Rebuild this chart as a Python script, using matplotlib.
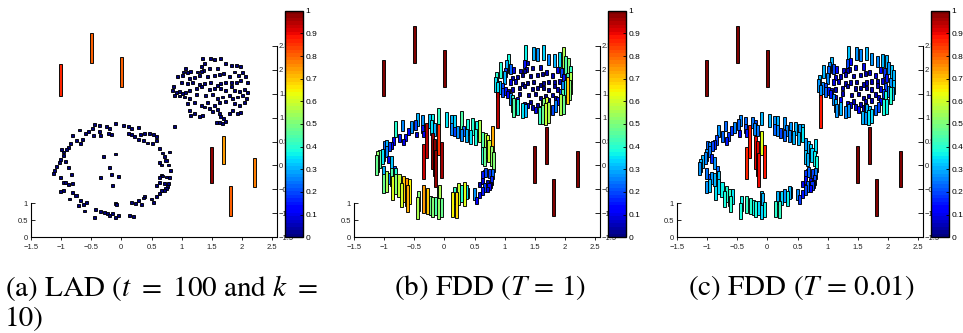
import numpy as np
import matplotlib
matplotlib.use('Agg')
import matplotlib.pyplot as plt
from matplotlib import ticker
from matplotlib.cm import ScalarMappable
from matplotlib.colors import Normalize

# ---- data (x, y of each point, score = bar height / colour) ----
# ring of points around the origin
ring_x = [-0.44, -0.36, -0.24, -0.19, -0.09, 0.03, 0.12, 0.17, 0.28,
          -0.69, -0.60, -0.55, -0.47, -0.36, -0.22, -0.16, 0.12, 0.17, 0.22, 0.31, 0.39, 0.47, 0.53, 0.58,
          -0.81, -0.74, -0.65, -0.84, -0.68, -0.46, -0.35, 0.28, 0.36, 0.44, 0.52, 0.58,
          -0.99, -0.95, -0.91, -0.87, -0.96, -1.01, -0.93, -1.07, -1.03, -0.88, -1.10, -1.12, -0.82,
          -1.00, -0.96, -0.92, -0.87, -0.81, -1.00, -0.95, -0.86, -0.80, -0.75,
          -0.68, -0.63, -0.71, -0.57, -0.61, -0.43, -0.45, -0.35, -0.28, -0.23, -0.20, -0.15,
          -0.10, -0.05, -0.08, -0.09, 0.14, 0.21, 0.17, 0.23, 0.28, 0.34, 0.39, 0.36,
          0.50, 0.53, 0.58, 0.63, 0.67, 0.71, 0.74, 0.77, 0.78, 0.72, 0.64, 0.58, 0.63, 0.69, 0.75, 0.80, 0.67,
          0.66, 0.78, 0.72, 0.69, 0.64, 0.80, 0.64, 0.81, 0.74]
ring_y = [0.85, 0.83, 0.81, 0.78, 0.87, 0.84, 0.81, 0.78, 0.80,
          0.74, 0.67, 0.70, 0.78, 0.70, 0.67, 0.64, 0.67, 0.64, 0.60, 0.64, 0.67, 0.67, 0.64, 0.60,
          0.62, 0.53, 0.55, 0.46, 0.45, 0.62, 0.62, 0.55, 0.52, 0.47, 0.46, 0.53,
          0.33, 0.28, 0.34, 0.38, 0.20, 0.12, 0.09, -0.03, 0.07, -0.05, -0.10, -0.16, -0.19,
          -0.25, -0.36, -0.36, -0.40, -0.37, -0.55, -0.53, -0.70, -0.56, -0.63,
          -0.74, -0.82, -0.83, -0.77, -0.95, -0.92, -1.08, -0.96, -0.99, -1.00, -1.05, -1.01,
          -1.08, -1.05, -0.82, -0.79, -1.05, -1.07, -0.78, -0.80, -0.73, -0.81, -0.64, -0.68,
          -0.70, -0.77, -0.65, -0.59, -0.52, -0.53, -0.48, -0.44, -0.37, -0.37, -0.35, -0.42, -0.25, -0.22, -0.24, -0.26, -0.21,
          0.01, 0.01, 0.18, 0.26, 0.35, 0.28, 0.07, -0.10, 0.10]
ring_fdd1 = [0.30, 0.28, 0.32, 0.36, 0.42, 0.35, 0.30, 0.33, 0.44,
             0.25, 0.12, 0.28, 0.20, 0.15, 0.35, 0.30, 0.25, 0.20, 0.28, 0.22, 0.38, 0.40, 0.36, 0.45,
             0.40, 0.15, 0.12, 0.14, 0.10, 0.08, 0.10, 0.25, 0.30, 0.35, 0.38, 0.55,
             0.22, 0.30, 0.18, 0.12, 0.25, 0.20, 0.10, 0.45, 0.35, 0.32, 0.52, 0.48, 0.20,
             0.30, 0.15, 0.25, 0.45, 0.40, 0.48, 0.55, 0.62, 0.50, 0.58,
             0.70, 0.75, 0.60, 0.65, 0.72, 0.50, 0.55, 0.74, 0.70, 0.48, 0.50, 0.45,
             0.52, 0.48, 0.55, 0.45, 0.65, 0.68, 0.42, 0.58, 0.40, 0.62, 0.20, 0.35,
             0.28, 0.12, 0.10, 0.15, 0.18, 0.08, 0.12, 0.10, 0.16, 0.06, 0.08, 0.05, 0.15, 0.20, 0.18, 0.22, 0.12,
             0.48, 0.52, 0.60, 0.55, 0.45, 0.72, 0.40, 0.50, 0.58]
ring_fdd001 = [0.25, 0.22, 0.24, 0.20, 0.30, 0.30, 0.28, 0.30, 0.27,
               0.22, 0.18, 0.25, 0.22, 0.20, 0.26, 0.24, 0.22, 0.25, 0.20, 0.26, 0.28, 0.30, 0.27, 0.32,
               0.28, 0.22, 0.18, 0.20, 0.15, 0.12, 0.15, 0.22, 0.26, 0.30, 0.30, 0.35,
               0.22, 0.25, 0.20, 0.16, 0.24, 0.28, 0.16, 0.30, 0.26, 0.27, 0.30, 0.28, 0.22,
               0.24, 0.20, 0.27, 0.30, 0.32, 0.28, 0.32, 0.35, 0.34, 0.36,
               0.40, 0.42, 0.38, 0.35, 0.40, 0.36, 0.38, 0.42, 0.40, 0.36, 0.38, 0.34,
               0.33, 0.36, 0.30, 0.32, 0.40, 0.42, 0.30, 0.34, 0.28, 0.36, 0.22, 0.30,
               0.25, 0.18, 0.15, 0.20, 0.22, 0.12, 0.18, 0.16, 0.20, 0.10, 0.14, 0.10, 0.18, 0.22, 0.20, 0.24, 0.16,
               0.30, 0.36, 0.33, 0.30, 0.28, 0.35, 0.32, 0.38, 0.34]

# points inside the ring
inner_x = [-0.30, -0.10, -0.19, -0.34, -0.16, -0.04, -0.15]
inner_y = [0.18, 0.24, -0.05, -0.25, -0.18, -0.23, -0.41]
inner_fdd1 = [0.95, 0.85, 0.97, 0.93, 1.00, 0.96, 0.98]
inner_fdd001 = [0.88, 0.62, 0.90, 0.86, 0.92, 0.88, 0.90]

# dense cluster, upper right
cluster_x = [1.35, 1.48, 1.54, 1.64, 1.37, 1.32, 1.73, 1.82, 1.90, 1.98, 1.60, 1.46,
             1.07, 1.03, 1.10, 1.15, 1.26, 1.32, 1.36,
             0.93, 1.02, 1.13, 1.21, 1.29, 1.43, 1.54, 1.62, 1.70, 1.79, 1.87, 1.94, 2.01, 2.06,
             2.09, 1.98, 1.90, 1.82, 1.73, 1.65, 1.60, 1.48, 1.37, 1.29, 1.18, 1.10, 0.99,
             0.87, 0.85, 0.91, 0.96, 1.02, 1.07, 1.13, 1.24, 1.32, 1.46, 1.54, 1.65, 1.73, 1.82, 1.87, 1.95, 2.04, 2.09,
             0.88, 0.96, 1.04, 1.13, 1.24, 1.40, 1.51, 1.60, 1.68, 1.79, 1.84, 1.93, 2.01, 2.08,
             1.10, 1.21, 1.32, 1.43, 1.54, 1.62, 1.73, 1.87, 1.95, 2.04,
             1.13, 1.15, 1.21, 1.29, 1.35, 1.37, 1.46, 1.51, 1.60, 1.62, 1.65, 1.70, 1.73, 1.62, 1.57, 1.68, 1.79, 1.84, 1.93, 1.98]
cluster_y = [2.23, 2.24, 2.22, 2.24, 2.12, 2.06, 2.12, 2.08, 2.09, 2.06, 2.03, 2.02,
             2.03, 1.95, 1.94, 1.96, 1.95, 1.96, 1.99,
             1.85, 1.88, 1.81, 1.83, 1.88, 1.85, 1.87, 1.89, 1.92, 1.85, 1.95, 1.87, 1.94, 1.85,
             1.74, 1.78, 1.74, 1.73, 1.74, 1.71, 1.67, 1.73, 1.71, 1.69, 1.73, 1.71, 1.73,
             1.64, 1.57, 1.53, 1.55, 1.50, 1.53, 1.57, 1.60, 1.64, 1.59, 1.60, 1.60, 1.57, 1.64, 1.57, 1.55, 1.59, 1.53,
             1.46, 1.45, 1.43, 1.39, 1.48, 1.46, 1.48, 1.39, 1.43, 1.46, 1.39, 1.43, 1.46, 1.39,
             1.29, 1.32, 1.25, 1.32, 1.25, 1.32, 1.34, 1.29, 1.25, 1.32,
             1.15, 1.05, 1.08, 1.03, 1.05, 1.22, 1.19, 1.12, 1.17, 1.08, 1.03, 0.98, 0.91, 0.89, 0.89, 0.87, 1.08, 1.15, 1.08, 1.10]
cluster_fdd1 = [0.36, 0.30, 0.28, 0.33, 0.05, 0.15, 0.25, 0.30, 0.35, 0.55, 0.06, 0.04,
                0.38, 0.30, 0.22, 0.08, 0.05, 0.04, 0.05,
                0.40, 0.18, 0.05, 0.04, 0.03, 0.03, 0.04, 0.03, 0.05, 0.06, 0.10, 0.20, 0.45, 0.50,
                0.42, 0.15, 0.05, 0.04, 0.03, 0.03, 0.03, 0.03, 0.03, 0.03, 0.05, 0.08, 0.30,
                0.40, 0.35, 0.30, 0.20, 0.15, 0.06, 0.05, 0.03, 0.03, 0.03, 0.03, 0.03, 0.03, 0.04, 0.06, 0.25, 0.45, 0.55,
                0.35, 0.20, 0.12, 0.05, 0.03, 0.03, 0.03, 0.03, 0.03, 0.04, 0.05, 0.20, 0.40, 0.50,
                0.28, 0.10, 0.05, 0.03, 0.04, 0.03, 0.04, 0.15, 0.45, 0.70,
                0.42, 0.45, 0.38, 0.35, 0.30, 0.08, 0.06, 0.10, 0.05, 0.35, 0.50, 0.60, 0.55, 0.48, 0.42, 0.58, 0.20, 0.25, 0.55, 0.48]
cluster_fdd001 = [0.32, 0.28, 0.26, 0.30, 0.12, 0.20, 0.27, 0.25, 0.30, 0.30, 0.10, 0.08,
                  0.30, 0.25, 0.20, 0.12, 0.08, 0.06, 0.06,
                  0.30, 0.22, 0.08, 0.06, 0.05, 0.05, 0.05, 0.06, 0.07, 0.08, 0.12, 0.18, 0.28, 0.32,
                  0.30, 0.15, 0.08, 0.06, 0.05, 0.05, 0.05, 0.04, 0.05, 0.05, 0.07, 0.10, 0.25,
                  0.30, 0.28, 0.25, 0.20, 0.15, 0.08, 0.06, 0.05, 0.04, 0.04, 0.04, 0.04, 0.05, 0.06, 0.08, 0.20, 0.28, 0.32,
                  0.28, 0.22, 0.15, 0.08, 0.05, 0.04, 0.04, 0.05, 0.05, 0.06, 0.07, 0.18, 0.25, 0.30,
                  0.25, 0.12, 0.08, 0.05, 0.06, 0.05, 0.06, 0.12, 0.38, 0.40,
                  0.30, 0.28, 0.30, 0.25, 0.28, 0.10, 0.08, 0.12, 0.08, 0.26, 0.30, 0.32, 0.34, 0.28, 0.30, 0.35, 0.22, 0.20, 0.38, 0.36]

# isolated points (the last one sits just below-left of the cluster)
outlier_x = [-1.0, -0.5, 0.0, 1.5, 1.7, 2.2, 1.8, 0.88]
outlier_y = [1.47, 2.17, 1.67, -0.33, 0.06, -0.43, -1.02, 0.82]
outlier_lad = [0.86, 0.80, 0.80, 0.97, 0.74, 0.78, 0.80, 0.0]
outlier_fdd1 = [1.0, 1.0, 1.0, 1.0, 1.0, 1.0, 1.0, 0.95]
outlier_fdd001 = [1.0, 1.0, 1.0, 1.0, 1.0, 1.0, 1.0, 0.88]

x_ticks = [-1.5, -1, -0.5, 0, 0.5, 1, 1.5, 2, 2.5]
y_ticks = [-1.5, -1, -0.5, 0, 0.5, 1, 1.5, 2, 2.5]
z_ticks = [0, 0.5, 1]
cbar_ticks = [0, 0.1, 0.2, 0.3, 0.4, 0.5, 0.6, 0.7, 0.8, 0.9, 1]
captions = [r'(a) LAD ($t$ $=$ 100 and $k$ $=$', r'(b) FDD ($T$ = 1)', r'(c) FDD ($T$ = 0.01)']

# LAD gives every point that is not an outlier a score of 0 (flat black dots)
pts_x = np.array(ring_x + inner_x + cluster_x + outlier_x)
pts_y = np.array(ring_y + inner_y + cluster_y + outlier_y)
n_flat = len(ring_x) + len(inner_x) + len(cluster_x)
scores = [
    np.concatenate([np.zeros(n_flat), outlier_lad]),
    np.array(ring_fdd1 + inner_fdd1 + cluster_fdd1 + outlier_fdd1),
    np.array(ring_fdd001 + inner_fdd001 + cluster_fdd001 + outlier_fdd001),
]

plt.rcParams['font.family'] = ['Liberation Sans', 'DejaVu Sans']
plt.rcParams['mathtext.fontset'] = 'stix'

FW, FH = 963, 333
KZ = 34 / 47.9      # screen height of one z unit, in y units (front view, tilted)
BW = 0.05           # bar width (x units)
CAP = 0.06          # visible top face of each box (y units)
cmap = plt.get_cmap('jet', 64)

fig = plt.figure(figsize=(FW / 100, FH / 100), dpi=100)

for i in range(3):
    L = 30.7 + 323 * i
    ax = fig.add_axes([L / FW, (FH - 237.3) / FH, 246.2 / FW, 234.3 / FH])
    ax.set_xlim(-1.5, 2.5 + 4.6 / 60.4)
    ax.set_ylim(-1.5, -1.5 + 234.3 / 47.9)

    s = scores[i]
    order = np.argsort(-pts_y)
    ax.bar(pts_x[order], s[order] * KZ + CAP, width=BW, bottom=pts_y[order] - CAP / 2,
           color=cmap(s[order]), edgecolor='black', linewidth=0.65)

    ax.spines['top'].set_visible(False)
    ax.spines['left'].set_visible(False)
    ax.spines['right'].set_bounds(-1.5, 2.5)
    ax.yaxis.tick_right()
    ax.set_xticks(x_ticks)
    ax.set_yticks(y_ticks)
    fmt = ticker.FuncFormatter(lambda v, p: ('%g' % v).replace('-', '\u2212'))
    ax.xaxis.set_major_formatter(fmt)
    ax.yaxis.set_major_formatter(fmt)
    ax.tick_params(axis='x', direction='out', length=2.5, width=0.7, labelsize=5.5, pad=2.5, colors='#222222')
    ax.tick_params(axis='y', direction='in', length=3.5, width=0.7, labelsize=5.5, pad=1.5, colors='#222222')
    for sp in ('bottom', 'right'):
        ax.spines[sp].set_linewidth(0.8)

    zax = ax.secondary_yaxis('left', functions=(lambda y: (y + 1.5) / KZ, lambda z: z * KZ - 1.5))
    zax.set_yticks(z_ticks)
    zax.yaxis.set_major_formatter(fmt)
    zax.spines['left'].set_bounds(0, 1)
    zax.spines['left'].set_linewidth(0.8)
    zax.tick_params(direction='in', length=3, width=0.7, labelsize=5.5, pad=2, colors='#222222')

    cax = fig.add_axes([(L + 254.5) / FW, (FH - 237.3) / FH, 18 / FW, 226.6 / FH])
    cb = fig.colorbar(ScalarMappable(norm=Normalize(0, 1), cmap=cmap), cax=cax)
    cb.set_ticks(cbar_ticks)
    cb.ax.yaxis.set_major_formatter(ticker.FuncFormatter(lambda v, p: '%g' % v))
    cb.ax.tick_params(direction='in', length=2.5, width=0.6, labelsize=6, pad=1.5)
    cb.outline.set_linewidth(1.0)

cap_kw = dict(fontsize=21, family='STIXGeneral', va='center')
fig.text(5 / FW, 1 - 288 / FH, captions[0], ha='left', **cap_kw)
fig.text(5 / FW, 1 - 319 / FH, '10)', ha='left', **cap_kw)
fig.text(490 / FW, 1 - 288 / FH, captions[1], ha='center', **cap_kw)
fig.text(801 / FW, 1 - 288 / FH, captions[2], ha='center', **cap_kw)

fig.savefig('out.png', dpi=100)
